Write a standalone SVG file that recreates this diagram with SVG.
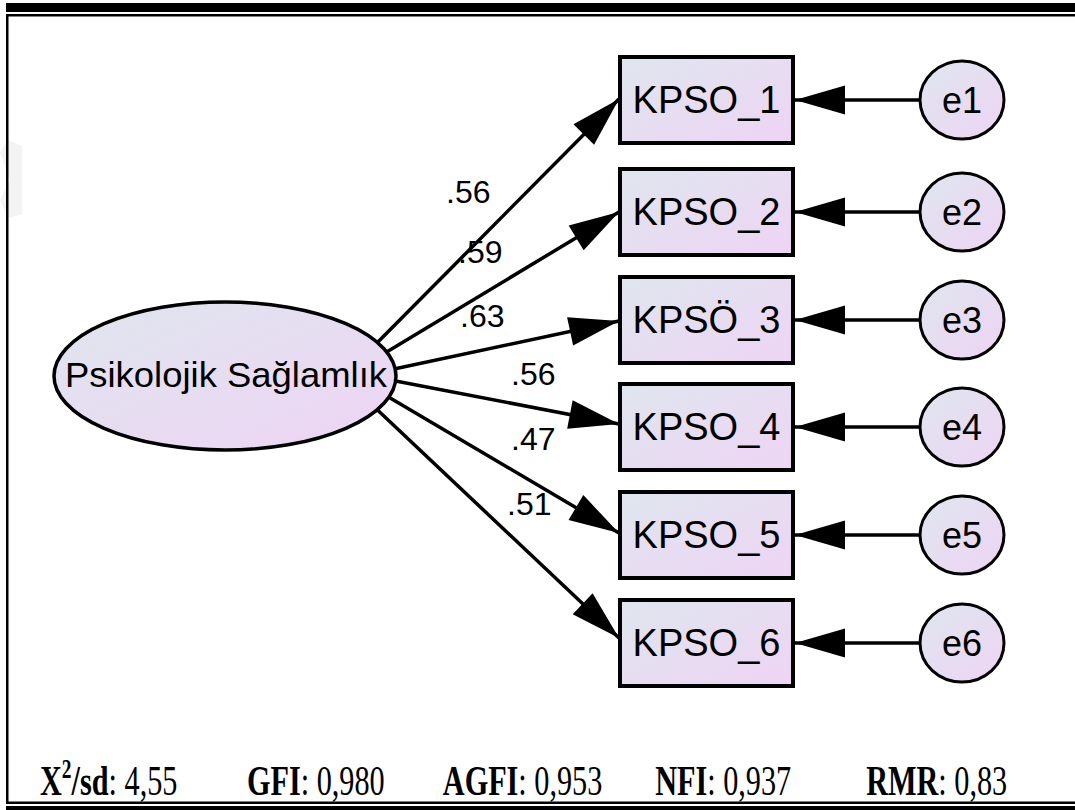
<svg xmlns="http://www.w3.org/2000/svg" width="1075" height="810" viewBox="0 0 1075 810">
<style>
.box{stroke:#000;stroke-width:4;fill:url(#g)}
.lat{stroke:#000;stroke-width:3.5;fill:url(#g)}
.err{stroke:#000;stroke-width:3;fill:url(#g)}
.lbl{font-family:"Liberation Sans",Arial,sans-serif;fill:#000;text-anchor:middle}
.coef{font-family:"Liberation Sans",Arial,sans-serif;fill:#000;font-size:32px}
.edge{stroke:#000;stroke-width:3.5;fill:none;marker-end:url(#ah)}
.ft{font-family:"Liberation Serif","Times New Roman",serif;font-size:42px;fill:#000}
.b{font-weight:bold}
</style>
<defs>
<linearGradient id="g" x1="0" y1="0" x2="1" y2="1">
<stop offset="0" stop-color="#dfe6ee"/>
<stop offset="1" stop-color="#eed4f4"/>
</linearGradient>
<marker id="ah" markerUnits="userSpaceOnUse" markerWidth="52" markerHeight="30" refX="50" refY="14.5" orient="auto" overflow="visible">
<path d="M0,0 L50,14.5 L0,29 z" fill="#000"/>
</marker>
</defs>
<rect x="0" y="0" width="1075" height="810" fill="#fff"/>
<polygon points="0,152 8,140 22,146 22,214 8,218 0,200 10,180" fill="#f3f3f3"/>
<!-- frame -->
<rect x="6" y="3" width="1069" height="9" fill="#000"/>
<rect x="6" y="14" width="1069" height="2.5" fill="#000"/>
<rect x="6" y="14" width="2.5" height="790" fill="#000"/>
<rect x="6" y="801.5" width="1069" height="2.5" fill="#000"/>
<rect x="6" y="806" width="1069" height="4" fill="#000"/>
<g id="connectors">
<line class="edge" x1="369" y1="351" x2="619" y2="99"/>
<line class="edge" x1="380" y1="356" x2="619" y2="212"/>
<line class="edge" x1="380" y1="372" x2="619" y2="321"/>
<line class="edge" x1="380" y1="378" x2="619" y2="424"/>
<line class="edge" x1="380" y1="392" x2="619" y2="533"/>
<line class="edge" x1="368" y1="401" x2="619" y2="638"/>
<line class="edge" x1="921" y1="100" x2="795" y2="100"/>
<line class="edge" x1="921" y1="212" x2="795" y2="212"/>
<line class="edge" x1="921" y1="320" x2="795" y2="320"/>
<line class="edge" x1="921" y1="427" x2="795" y2="427"/>
<line class="edge" x1="921" y1="535" x2="795" y2="535"/>
<line class="edge" x1="921" y1="643" x2="795" y2="643"/>
</g>
<g id="coefs">
<text class="coef" x="446" y="203">.56</text>
<text class="coef" x="458" y="263">.59</text>
<text class="coef" x="460" y="327">.63</text>
<text class="coef" x="511" y="385">.56</text>
<text class="coef" x="511" y="450">.47</text>
<text class="coef" x="507" y="515">.51</text>
</g>
<g id="latent">
<ellipse class="lat" cx="225" cy="376" rx="171" ry="74"/>
<text class="lbl" x="226" y="387" font-size="35" textLength="322" lengthAdjust="spacingAndGlyphs">Psikolojik Sağlamlık</text>
</g>
<g id="kpso1"><rect class="box" x="620" y="57" width="173" height="86"/><text class="lbl" x="706.5" y="113" font-size="38">KPSO_1</text></g>
<g id="kpso2"><rect class="box" x="620" y="169" width="173" height="86"/><text class="lbl" x="706.5" y="225" font-size="38">KPSO_2</text></g>
<g id="kpso3"><rect class="box" x="620" y="277" width="173" height="86"/><text class="lbl" x="706.5" y="333" font-size="38">KPSÖ_3</text></g>
<g id="kpso4"><rect class="box" x="620" y="384" width="173" height="86"/><text class="lbl" x="706.5" y="440" font-size="38">KPSO_4</text></g>
<g id="kpso5"><rect class="box" x="620" y="492" width="173" height="86"/><text class="lbl" x="706.5" y="548" font-size="38">KPSO_5</text></g>
<g id="kpso6"><rect class="box" x="620" y="600" width="173" height="86"/><text class="lbl" x="706.5" y="656" font-size="38">KPSO_6</text></g>
<g id="e1"><ellipse class="err" cx="962" cy="100" rx="42" ry="39"/><text class="lbl" x="962" y="113" font-size="36">e1</text></g>
<g id="e2"><ellipse class="err" cx="962" cy="212" rx="42" ry="39"/><text class="lbl" x="962" y="225" font-size="36">e2</text></g>
<g id="e3"><ellipse class="err" cx="962" cy="320" rx="42" ry="39"/><text class="lbl" x="962" y="333" font-size="36">e3</text></g>
<g id="e4"><ellipse class="err" cx="962" cy="427" rx="42" ry="39"/><text class="lbl" x="962" y="440" font-size="36">e4</text></g>
<g id="e5"><ellipse class="err" cx="962" cy="535" rx="42" ry="39"/><text class="lbl" x="962" y="548" font-size="36">e5</text></g>
<g id="e6"><ellipse class="err" cx="962" cy="643" rx="42" ry="39"/><text class="lbl" x="962" y="656" font-size="36">e6</text></g>
<g id="footer" transform="scale(0.72,1)">
<text class="ft" x="55.6" y="795"><tspan class="b">X</tspan><tspan class="b" font-size="27" dy="-17">2</tspan><tspan class="b" dy="17">/sd</tspan>: 4,55</text>
<text class="ft" x="343" y="795"><tspan class="b">GFI</tspan>: 0,980</text>
<text class="ft" x="615" y="795"><tspan class="b">AGFI</tspan>: 0,953</text>
<text class="ft" x="910" y="795"><tspan class="b">NFI</tspan>: 0,937</text>
<text class="ft" x="1203" y="795"><tspan class="b">RMR</tspan>: 0,83</text>
</g>
</svg>
